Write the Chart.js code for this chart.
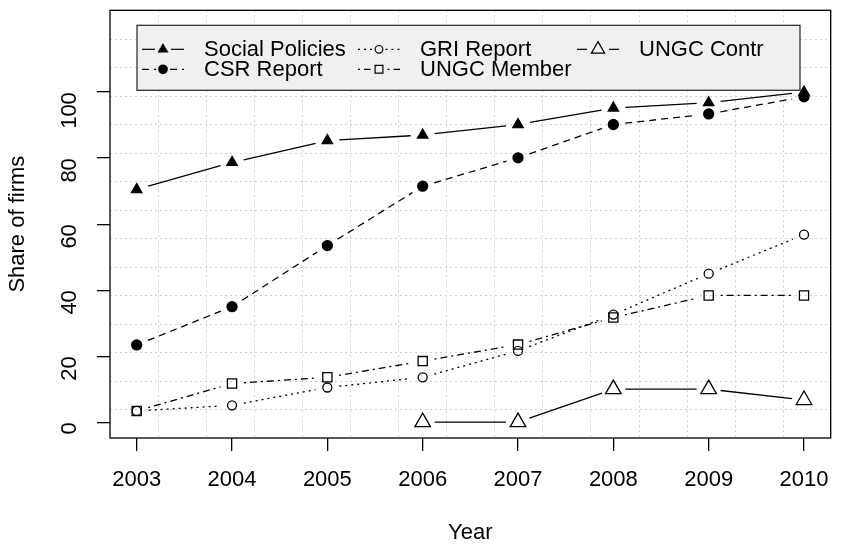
<!DOCTYPE html>
<html>
<head>
<meta charset="utf-8">
<script src="https://cdn.jsdelivr.net/npm/chart.js@4"></script>
<style>
  body { margin: 0; background: #fff; }
</style>
</head>
<body>
<canvas id="myChart" width="841" height="546"></canvas>
<script>
// values (share of firms, %)
let years = [2003, 2004, 2005, 2006, 2007, 2008, 2009, 2010];
let socialPolicies = [70.5, 78.7, 85.3, 87.0, 90.2, 95.2, 96.8, 100];
let csrReport = [23.4, 35.0, 53.5, 71.5, 80.1, 90.2, 93.4, 98.6];
let griReport = [3.4, 5.1, 10.5, 13.6, 21.6, 32.6, 45.0, 56.8];
let ungcMember = [3.4, 11.7, 13.6, 18.5, 23.5, 31.7, 38.4, 38.4];
let ungcContr = [null, null, null, 0, 0, 10, 10, 6.7];
let yTicks = [0, 20, 40, 60, 80, 100];
let yLimits = [0, 120];

let font = "'Liberation Sans', Arial, sans-serif";
let xPad = (years[years.length - 1] - years[0]) * 0.04;
let yPad = (yLimits[1] - yLimits[0]) * 0.04;

function pts(values) {
  return years.map((yr, i) => ({ x: yr, y: values[i] }));
}

// R-style grid: 15 equal cells over the whole plot region
const rGrid = {
  id: 'rGrid',
  beforeDatasetsDraw(chart) {
    const { ctx, chartArea: a, scales: { x, y } } = chart;
    ctx.save();
    ctx.strokeStyle = '#cfcfcf';
    ctx.lineWidth = 1;
    ctx.setLineDash([2, 3]);
    for (let k = 1; k < 15; k++) {
      const px = Math.round(x.getPixelForValue(x.min + k * (x.max - x.min) / 15)) + 0.5;
      ctx.beginPath(); ctx.moveTo(px, a.top); ctx.lineTo(px, a.bottom); ctx.stroke();
      const py = Math.round(y.getPixelForValue(y.min + k * (y.max - y.min) / 15)) + 0.5;
      ctx.beginPath(); ctx.moveTo(a.left, py); ctx.lineTo(a.right, py); ctx.stroke();
    }
    ctx.restore();
  }
};

// lines broken around the points, like type = "b"
const typeB = {
  id: 'typeB',
  afterDatasetsDraw(chart) {
    const ctx = chart.ctx;
    chart.data.datasets.forEach((ds, i) => {
      const els = chart.getDatasetMeta(i).data;
      ctx.save();
      ctx.strokeStyle = '#000';
      ctx.lineWidth = ds.borderWidth;
      for (let k = 0; k < els.length - 1; k++) {
        const a = els[k], b = els[k + 1];
        if (ds.data[k].y == null || ds.data[k + 1].y == null) continue;
        const dx = b.x - a.x, dy = b.y - a.y, len = Math.hypot(dx, dy);
        const g = 12;
        if (len <= 2 * g) continue;
        ctx.setLineDash(ds.borderDash || []);
        ctx.beginPath();
        ctx.moveTo(a.x + dx / len * g, a.y + dy / len * g);
        ctx.lineTo(b.x - dx / len * g, b.y - dy / len * g);
        ctx.stroke();
      }
      ctx.restore();
    });
    // box round the plot
    const ar = chart.chartArea;
    ctx.save();
    ctx.strokeStyle = '#000';
    ctx.lineWidth = 1.3;
    ctx.strokeRect(ar.left, ar.top, ar.right - ar.left, ar.bottom - ar.top);
    ctx.restore();
  }
};

// legend box in three columns
const rLegend = {
  id: 'rLegend',
  afterDraw(chart) {
    const { ctx, chartArea: a } = chart;
    const bx = a.left + 27, by = a.top + 15, bw = 663, bh = 65;
    ctx.save();
    ctx.fillStyle = '#f0f0f0';
    ctx.fillRect(bx, by, bw, bh);
    ctx.strokeStyle = '#333';
    ctx.lineWidth = 1.3;
    ctx.strokeRect(bx, by, bw, bh);
    const cols = [bx + 5, bx + 221, bx + 440];
    const rows = [by + 24, by + 44];
    const slots = [[0, 0], [0, 1], [1, 0], [1, 1], [2, 0]];
    chart.data.datasets.forEach((ds, i) => {
      const [c, r] = slots[i];
      const x0 = cols[c], yy = rows[r], sx = x0 + 21;
      ctx.strokeStyle = '#000';
      ctx.lineWidth = 1.2;
      ctx.setLineDash(ds.borderDash || []);
      const g = ds.pointRadius + 2;
      ctx.beginPath(); ctx.moveTo(x0, yy); ctx.lineTo(sx - g, yy); ctx.stroke();
      ctx.beginPath(); ctx.moveTo(sx + g, yy); ctx.lineTo(x0 + 42, yy); ctx.stroke();
      ctx.setLineDash([]);
      ctx.fillStyle = ds.pointBackgroundColor;
      ctx.strokeStyle = '#000';
      Chart.helpers.drawPoint(ctx, { pointStyle: ds.pointStyle, rotation: 0, radius: ds.pointRadius * 0.85, borderWidth: 1.2 }, sx, yy);
      ctx.fillStyle = '#000';
      ctx.font = '22px ' + font;
      ctx.textBaseline = 'middle';
      ctx.fillText(ds.label, x0 + 62, yy + 1);
    });
    ctx.restore();
  }
};

function noLabelPadding(s) {
  s.paddingTop = 0; s.paddingBottom = 0;
  s.paddingLeft = 0; s.paddingRight = 0;
}

let myChart = document.getElementById('myChart').getContext('2d');

let lineChart = new Chart(myChart, {
  type: 'line',
  data: {
    datasets: [{
      label: 'Social Policies',
      data: pts(socialPolicies),
      pointStyle: 'triangle', pointRadius: 6, pointBackgroundColor: '#000',
      borderDash: [], borderWidth: 1.3
    }, {
      label: 'CSR Report',
      data: pts(csrReport),
      pointStyle: 'circle', pointRadius: 5, pointBackgroundColor: '#000',
      borderDash: [7, 5], borderWidth: 1.3
    }, {
      label: 'GRI Report',
      data: pts(griReport),
      pointStyle: 'circle', pointRadius: 4.5, pointBackgroundColor: 'rgba(0,0,0,0)',
      borderDash: [2, 4], borderWidth: 1.3
    }, {
      label: 'UNGC Member',
      data: pts(ungcMember),
      pointStyle: 'rect', pointRadius: 6.5, pointBackgroundColor: 'rgba(0,0,0,0)',
      borderDash: [2, 4, 7, 4], borderWidth: 1.3
    }, {
      label: 'UNGC Contr',
      data: pts(ungcContr),
      pointStyle: 'triangle', pointRadius: 9, pointBackgroundColor: 'rgba(0,0,0,0)',
      borderDash: [], borderWidth: 1.3
    }]
  },
  options: {
    responsive: false,
    animation: false,
    showLine: false,
    datasets: { line: { borderColor: '#000', pointBorderColor: '#000', pointBorderWidth: 1.3, pointHoverRadius: 0 } },
    layout: { padding: { top: 8, right: 3, left: 0, bottom: 0 } },
    plugins: { legend: { display: false }, tooltip: { enabled: false } },
    scales: {
      x: {
        type: 'linear',
        min: years[0] - xPad,
        max: years[years.length - 1] + xPad,
        afterBuildTicks: s => { s.ticks = years.map(v => ({ value: v })); },
        afterFit: s => { s.height = 108; noLabelPadding(s); },
        border: { display: false },
        grid: { drawOnChartArea: false, drawTicks: true, tickLength: 13, color: '#000', lineWidth: 1.3 },
        ticks: { color: '#000', font: { family: font, size: 22 }, padding: 16, maxRotation: 0, callback: v => String(v) },
        title: { display: true, text: 'Year', color: '#000', font: { family: font, size: 22 }, padding: { top: 0, bottom: 0 } }
      },
      y: {
        min: yLimits[0] - yPad,
        max: yLimits[1] + yPad,
        afterBuildTicks: s => { s.ticks = yTicks.map(v => ({ value: v })); },
        afterFit: s => { s.width = 110; noLabelPadding(s); },
        border: { display: false },
        grid: { drawOnChartArea: false, drawTicks: true, tickLength: 13, color: '#000', lineWidth: 1.3 },
        ticks: { color: '#000', font: { family: font, size: 22 }, padding: 27, minRotation: 90, maxRotation: 90 },
        title: { display: true, text: 'Share of firms', color: '#000', font: { family: font, size: 22 }, padding: { top: 5, bottom: 0 } }
      }
    }
  },
  plugins: [rGrid, typeB, rLegend]
});
</script>
</body>
</html>
